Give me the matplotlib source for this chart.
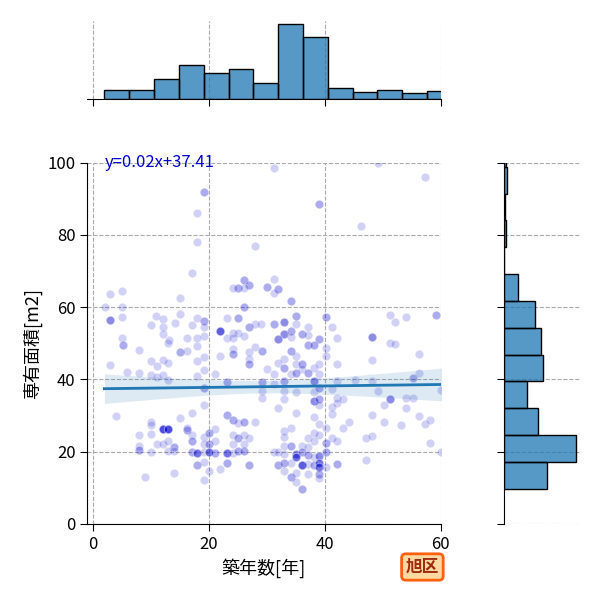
import numpy as np
import matplotlib
matplotlib.use("Agg")
import matplotlib.pyplot as plt

plt.rcParams['font.family'] = ['Noto Sans CJK JP', 'DejaVu Sans']

# 散布図データ (築年数, 専有面積) - 画像から読み取り、重なった点は複数回
age = [19.1, 19.1, 18, 18, 28, 17, 26.1, 26.1, 25.1, 25.1, 27, 27, 24.2, 26.1, 30.1, 30.1,
       3, 5, 15, 2, 5, 26.1, 26.1, 3, 3, 3, 5, 10.9, 12, 10, 12, 14.1, 15, 12, 5, 17, 18,
       19.1, 19.1, 19.1, 19.1, 18, 16.2, 13.1, 23.1, 25.1, 25.1, 22, 22, 22, 24.2, 25.1,
       27, 27, 28, 29, 23.1, 24.2, 26.1,
       31.2, 49.2, 57.3, 39.1, 39.1, 46.2, 31.2, 32, 32, 31.2, 34.1, 34.1, 31.2, 31.2,
       33, 33, 33, 35.1, 35.1, 35.1, 37.2, 40.2, 40.2, 41.2, 51.2, 52.2, 54.1, 59.2, 59.2,
       33, 33, 33, 34.1, 34.1, 36.1, 36.1, 32, 32, 32, 39.1, 39.1, 42.2, 48.2, 48.2, 48.2,
       37.2, 34.1,
       5.1, 5.1, 8, 13, 15, 15, 16.2, 18, 19.1, 22, 24.2, 24.2, 24.2, 27, 28, 29.1, 29.1,
       27, 27, 27, 3, 10, 11, 12, 13, 18, 19.1, 21.1, 30, 5.9, 8, 10, 11, 12, 13, 17.9,
       19.1, 19.1, 23.1, 23.1, 29.1, 29.1, 29.1, 29.1, 19.1, 4, 17, 15, 10, 10, 8, 10,
       12, 12, 12, 13, 13, 13, 16.2, 16.2, 16.2, 17, 17, 17, 19.1, 20.1, 20.1, 21.1,
       8, 8, 8, 10, 11, 12, 13, 14, 14, 14, 13, 17, 17, 18, 18, 18, 19.1, 19.1, 20.1, 20.1,
       20.1, 20.1, 20.1, 21.1, 21.1, 21.1, 23.1, 23.1, 23.1, 24.2, 25.1, 25.1, 26.1, 26.1,
       23.1, 23.1, 24.2, 24.2, 25.1, 26.1, 26.1, 28, 24.2, 25.1, 25.1, 26.1, 27, 24.2, 26.1,
       18, 18, 19.1, 20.1, 22, 23.1, 23.1, 27, 27, 9, 14, 19.1,
       37.2, 37.2, 38.1, 38.1, 40.2, 51.2, 52.2, 56.2, 34.1, 34.1, 33, 35.1, 32, 33, 33,
       35.1, 36.1, 36.1, 36.1, 38.1, 39.1, 40.2, 42.2, 48.2, 31.2, 34.1, 35.1, 35.1, 37.2,
       37.2, 39.1, 33, 33, 38.1, 38.1, 38.1, 42.2, 45.3, 48.2, 55.2, 55.2, 56.2, 31.2, 33,
       35.1, 38.1, 39.1, 39.1, 41.2, 49.2, 60, 33, 38.1, 38.1, 38.1, 39.1, 39.1, 39.1,
       42.2, 42.2, 43.2, 51.2, 51.2, 51.2, 54.1, 55.2, 50.2, 41.2, 32, 35.1, 41.2, 38.1,
       48.2, 54.1, 56.2, 44.2, 43.2, 39.1, 40.2, 50.2, 53.1, 57.3, 58.2, 33, 34.1, 33,
       38.1, 37.2, 39.1, 41.2, 42.2, 47.2, 48.2, 58.2, 33, 34.1, 34.1, 36.1, 37.2, 40.2,
       40.2, 38.1, 31.2, 32, 33, 35.1, 35.1, 35.1, 36.1, 36.1, 37.2, 37.2, 38.1, 39.1,
       39.1, 39.1, 40.2, 40.2, 60, 32, 32, 33, 33, 34.1, 35.1, 35.1, 35.1, 36.1, 36.1,
       36.1, 36.1, 37.2, 38.1, 38.1, 39.1, 39.1, 39.1, 39.1, 39.1, 39.1, 40.2, 42.2, 42.2,
       47.1, 33, 34.1, 34.1, 35.1, 35.1, 37.2, 39.1, 39.1, 39.1, 36.1, 36.1,
       12, 12, 12, 13, 13, 13, 22, 22, 36.1, 39.1, 39.1, 35.1, 18, 20.1, 23.1]
area = [92, 92, 86, 78, 77, 69.5, 67.6, 67.6, 65.4, 65.4, 66.1, 66.1, 65.2, 65.4, 65.5, 65.5,
        63.6, 64.5, 62.6, 60, 60, 60.1, 60.1, 56.4, 56.4, 56.4, 57.3, 57.6, 56.7, 55, 54.5,
        55.7, 58.2, 52.5, 51.6, 55, 57.1, 56.3, 56.3, 54.4, 52.1, 51.6, 51.6, 50.9, 57.1,
        57.1, 57.1, 53.4, 53.4, 53.4, 53, 53, 54.6, 54.6, 55.3, 55.3, 51.6, 51.6, 52.1,
        98.5, 99.8, 96.1, 88.6, 88.6, 82.5, 67.8, 65.1, 65.1, 63.8, 61.7, 61.7, 55.3, 55.3,
        56, 56, 56, 57.5, 57.5, 55.3, 54.6, 57.4, 57.4, 54.6, 57.9, 55.9, 57.3, 57.9, 57.9,
        52.7, 52.7, 52.7, 53.4, 53.4, 52.7, 52.7, 51.2, 51.2, 51.2, 51.2, 51.2, 51.5, 51.7,
        51.7, 51.7, 52.2, 51.8,
        49.6, 49.6, 48.2, 50.2, 47.6, 47.6, 47.9, 49.3, 46.3, 46.5, 48.4, 47, 47, 47.7, 49,
        47.9, 47.9, 45.6, 44.2, 44.2, 44, 45.1, 43.8, 45.3, 44.5, 45.1, 42.5, 41.6, 42.8, 42,
        41.7, 41.2, 40.7, 41.2, 39.8, 40.9, 37.6, 37.6, 39.4, 39.4, 39.4, 39.4, 36.8, 34.8,
        33, 29.8, 30.7, 29.3, 28.1, 27.5, 24.6, 24.8, 26.2, 26.2, 26.2, 26.2, 26.2, 26.2,
        26.1, 26.1, 26.7, 24.6, 23, 23, 24, 25.3, 25.3, 26.2,
        21.6, 20.4, 20.4, 20, 22.2, 22.1, 23, 21.2, 21.2, 20.1, 20.2, 19.8, 19.8, 19.6, 19.6,
        19.6, 22.1, 19.8, 22.1, 22.1, 19.8, 19.8, 19.8, 23, 19.6, 19.6, 19.6, 19.6, 19.6,
        19.6, 20.1, 20.1, 20.2, 20.2,
        30.1, 30.1, 28.7, 28.7, 27.9, 28.3, 28.3, 28.3, 24.6, 23.8, 23.8, 24.6, 23.8, 22.2,
        22.2, 16.3, 16.3, 17.2, 14.7, 15.3, 16.8, 16.8, 16.3, 16.3, 13, 14, 12.2,
        49.6, 49.6, 49.6, 49.6, 48.8, 50, 49.8, 47, 47.9, 47.9, 45.6, 46.5, 44.5, 43.3, 43.3,
        44.2, 44.2, 44.2, 42.9, 43.3, 44.4, 46.5, 44.2, 45.3, 41.5, 41.5, 41.7, 41.7, 41.7,
        41.7, 41.6, 39.6, 39.6, 39.6, 39.6, 39.6, 39.6, 39.8, 39.6, 40.3, 40.3, 41.7, 38.7,
        36.8, 36.4, 36.4, 37.6, 37.6, 37.3, 36.8, 37, 34.5, 34, 34, 34, 34.5, 34.5, 33,
        34.9, 33.6, 34.5, 34.5, 34.5, 34.5, 34.8, 34.8, 33, 32.4, 32, 30.8, 30.4, 29.7,
        30.2, 32, 29.9, 28.3, 26.5, 27.8, 26.5, 28.1, 27.4, 27.8, 28.7, 25.8, 26.5, 24,
        25.2, 23.7, 24.6, 23.7, 23, 23.7, 24.3, 22.4, 21.6, 21.6, 21.6, 21.6, 21.2, 22.4,
        22.4, 23, 19.8, 19.8, 19.5, 19.5, 19.5, 19.5, 20, 20, 19.2, 19.2, 18.5, 18.7,
        18.7, 18.7, 19.8, 19.8, 19.8, 16.3, 16.3, 16.8, 16.8, 16.8, 18.5, 18.5, 18.5, 16.2,
        16.2, 16.2, 16.2, 16.7, 16.2, 16.2, 17, 17, 17, 15.9, 15.9, 15.9, 15.7, 16.7, 16.7,
        17.7, 14.7, 12.9, 12.9, 14.2, 11.7, 13.9, 13.7, 13.7, 12.6, 9.6, 9.6,
        26.2, 26.2, 26.2, 26.2, 26.2, 26.2, 53.4, 53.4, 16.2, 17, 15.9, 18.5, 19.6, 19.8, 19.6]

# 周辺ヒストグラム (度数)
age_counts = [9, 9, 20, 34, 26, 30, 16, 75, 62, 11, 7, 9, 6, 8]
age_range = (1.95, 61.98)
area_counts = [46, 77, 36, 25, 42, 40, 33, 15, 0, 2, 1, 3, 2]
area_range = (9.78, 106.3)

# 回帰式
slope = 0.02
intercept = 37.41
ward = '旭区'

x = np.array(age)
y = np.array(area)

fig = plt.figure(figsize=(6, 6), dpi=100)
ax = fig.add_axes([0.1455, 0.1267, 0.5887, 0.6021])
ax_top = fig.add_axes([0.1455, 0.8345, 0.5887, 0.1313])
ax_right = fig.add_axes([0.8395, 0.1267, 0.1272, 0.6021])

grid_kw = dict(color='#aaaaaa', linestyle='--', linewidth=0.8)

# 散布図
ax.scatter(x, y, s=36, color='mediumblue', alpha=0.18, edgecolor='white', linewidth=0.75, zorder=2)

# 回帰直線と95%信頼区間
xs = np.linspace(age_range[0], age_range[1], 100)
ys = slope * xs + intercept
n = len(x)
resid = y - (slope * x + intercept)
s_err = np.sqrt(np.sum(resid ** 2) / (n - 2))
sxx = np.sum((x - x.mean()) ** 2)
half = 1.97 * s_err * np.sqrt(1.0 / n + (xs - x.mean()) ** 2 / sxx)
ax.fill_between(xs, ys - half, ys + half, color='#1f77b4', alpha=0.15, linewidth=0, zorder=3)
ax.plot(xs, ys, color='#1f77b4', linewidth=2, zorder=4)
ax.text(age_range[0], 100, 'y=%.2fx+%.2f' % (slope, intercept), color='#0000cd',
        fontsize=12, va='center', ha='left')

ax.set_xlim(-1, 60)
ax.set_ylim(0, 100)
ax.set_xticks([0, 20, 40, 60])
ax.set_yticks([0, 20, 40, 60, 80, 100])
ax.grid(True, **grid_kw)
ax.set_axisbelow(True)
ax.spines['top'].set_visible(False)
ax.spines['right'].set_visible(False)
ax.tick_params(labelsize=12, length=5)
ax.set_xlabel('築年数[年]', fontsize=13)
ax.set_ylabel('専有面積[m2]', fontsize=13)

# 上の周辺ヒストグラム
xe = np.linspace(age_range[0], age_range[1], len(age_counts) + 1)
ax_top.bar(xe[:-1], age_counts, width=np.diff(xe), align='edge',
           color='#1f77b4', alpha=0.75, linewidth=0, zorder=2)
ax_top.bar(xe[:-1], age_counts, width=np.diff(xe), align='edge',
           fill=False, edgecolor='black', linewidth=1, zorder=3)
ax_top.set_xlim(-1, 60)
ax_top.set_ylim(0, max(age_counts) * 1.05)
ax_top.set_xticks([0, 20, 40, 60])
ax_top.set_yticks([])
ax_top.tick_params(labelbottom=False, length=5)
ax_top.xaxis.grid(True, **grid_kw)
ax_top.set_axisbelow(True)
for sp in ['top', 'right', 'left']:
    ax_top.spines[sp].set_visible(False)

# 右の周辺ヒストグラム
ye = np.linspace(area_range[0], area_range[1], len(area_counts) + 1)
ax_right.barh(ye[:-1], area_counts, height=np.diff(ye), align='edge',
              color='#1f77b4', alpha=0.75, linewidth=0, zorder=2)
ax_right.barh(ye[:-1], area_counts, height=np.diff(ye), align='edge',
              fill=False, edgecolor='black', linewidth=1, zorder=3)
ax_right.set_ylim(0, 100)
ax_right.set_xlim(0, max(area_counts) * 1.05)
ax_right.set_yticks([0, 20, 40, 60, 80, 100])
ax_right.set_xticks([])
ax_right.tick_params(labelleft=False, length=5)
ax_right.yaxis.grid(True, **grid_kw)
ax_right.set_axisbelow(True)
for sp in ['top', 'right', 'bottom']:
    ax_right.spines[sp].set_visible(False)

# 区名ラベル
fig.text(0.704, 0.055, ward, fontsize=12, fontweight='bold', color='#a02a10',
         ha='center', va='center',
         bbox=dict(boxstyle='round,pad=0.25', facecolor='#ffd9a0', edgecolor='#ff6010', linewidth=2))

fig.savefig('out.png', dpi=100)
